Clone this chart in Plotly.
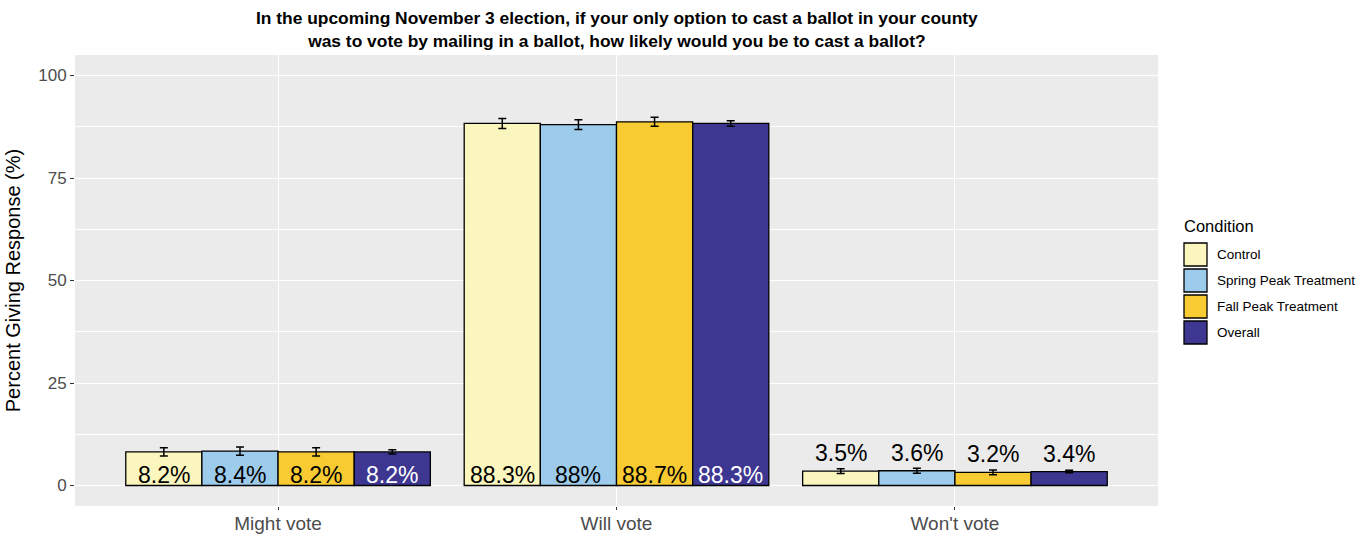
import plotly.graph_objects as go

# Survey responses by condition
categories = ["Might vote", "Will vote", "Won't vote"]
conditions = ["Control", "Spring Peak Treatment", "Fall Peak Treatment", "Overall"]
values = {
    "Control": [8.2, 88.3, 3.5],
    "Spring Peak Treatment": [8.4, 88.0, 3.6],
    "Fall Peak Treatment": [8.2, 88.7, 3.2],
    "Overall": [8.2, 88.3, 3.4],
}
errors = {
    "Control": [1.0, 1.2, 0.6],
    "Spring Peak Treatment": [1.0, 1.2, 0.6],
    "Fall Peak Treatment": [1.0, 1.1, 0.6],
    "Overall": [0.5, 0.65, 0.3],
}
colors = {
    "Control": "#FAF6BD",
    "Spring Peak Treatment": "#9DCBEC",
    "Fall Peak Treatment": "#F8CB32",
    "Overall": "#3E3792",
}
label_colors = {
    "Control": "black",
    "Spring Peak Treatment": "black",
    "Fall Peak Treatment": "black",
    "Overall": "white",
}
y_ticks = [0, 25, 50, 75, 100]

W, H = 1369, 535
ML, MR, MT, MB = 75, 211, 55, 29
PW, PH = W - ML - MR, H - MT - MB

BAR_W = 0.225
offsets = [(i - 1.5) * BAR_W for i in range(len(conditions))]
FONT = "Liberation Sans, Arial, Helvetica, sans-serif"


def fmt(v):
    s = f"{v:.1f}".rstrip("0").rstrip(".")
    return s + "%"


def px_x(p):
    return (p - ML) / PW


def px_y(p):
    return (H - MB - p) / PH


fig = go.Figure()
annotations = []
for ci, cond in enumerate(conditions):
    xs = [k + offsets[ci] for k in range(len(categories))]
    fig.add_trace(go.Bar(
        x=xs, y=values[cond], width=BAR_W, name=cond,
        marker=dict(color=colors[cond], line=dict(color="black", width=1.3)),
        error_y=dict(type="data", array=errors[cond], color="black",
                     thickness=1.5, width=4),
        showlegend=False,
    ))
    for k, cat in enumerate(categories):
        v = values[cond][k]
        if cat == "Won't vote":
            annotations.append(dict(
                x=xs[k], y=v, xref="x", yref="y", text=fmt(v), showarrow=False,
                yanchor="bottom", yshift=3,
                font=dict(size=23, color="black", family=FONT)))
        else:
            annotations.append(dict(
                x=xs[k], y=0, xref="x", yref="y", text=fmt(v), showarrow=False,
                yanchor="bottom", yshift=-4,
                font=dict(size=23, color=label_colors[cond], family=FONT)))

# title
annotations.append(dict(
    x=0.5, y=px_y(29), xref="paper", yref="paper", showarrow=False,
    xanchor="center", yanchor="middle",
    text="<b>In the upcoming November 3 election, if your only option to cast a ballot in your county<br>"
         "was to vote by mailing in a ballot, how likely would you be to cast a ballot?</b>",
    font=dict(size=17.4, color="black", family=FONT)))

# legend
annotations.append(dict(
    x=px_x(1182), y=px_y(226), xref="paper", yref="paper", text="Condition",
    showarrow=False, xanchor="left", yanchor="middle",
    font=dict(size=16.5, color="black", family=FONT)))
shapes = []
for i, cond in enumerate(conditions):
    top = 242 + 26 * i
    shapes.append(dict(
        type="rect", xref="paper", yref="paper",
        x0=px_x(1184), x1=px_x(1207), y0=px_y(top + 1), y1=px_y(top + 24),
        fillcolor=colors[cond], line=dict(color="black", width=1.3)))
    annotations.append(dict(
        x=px_x(1215), y=px_y(top + 12.5), xref="paper", yref="paper", text=cond,
        showarrow=False, xanchor="left", yanchor="middle",
        font=dict(size=13.5, color="black", family=FONT)))

fig.update_layout(
    width=W, height=H,
    margin=dict(l=ML, r=MR, t=MT, b=MB),
    paper_bgcolor="white",
    plot_bgcolor="#EBEBEB",
    barmode="overlay",
    xaxis=dict(
        range=[-0.6, 2.6], tickvals=list(range(len(categories))), ticktext=categories,
        showgrid=True, gridcolor="white", gridwidth=1.2, zeroline=False,
        ticks="outside", ticklen=3, tickcolor="#333333", tickwidth=1,
        ticklabelstandoff=-3,
        tickfont=dict(size=19, color="#4D4D4D", family=FONT),
        showline=False, automargin=False,
    ),
    yaxis=dict(
        range=[-5, 105], tickvals=y_ticks,
        showgrid=True, gridcolor="white", gridwidth=1.2, zeroline=False,
        minor=dict(tickvals=[12.5, 37.5, 62.5, 87.5], showgrid=True,
                   gridcolor="white", gridwidth=0.6),
        ticks="outside", ticklen=4, tickcolor="#333333", tickwidth=1,
        tickfont=dict(size=17, color="#4D4D4D", family=FONT),
        title=dict(text="Percent Giving Response (%)", standoff=12,
                   font=dict(size=20, color="black", family=FONT)),
        showline=False, automargin=False,
    ),
    annotations=annotations,
    shapes=shapes,
)

fig.write_html("out.html")
